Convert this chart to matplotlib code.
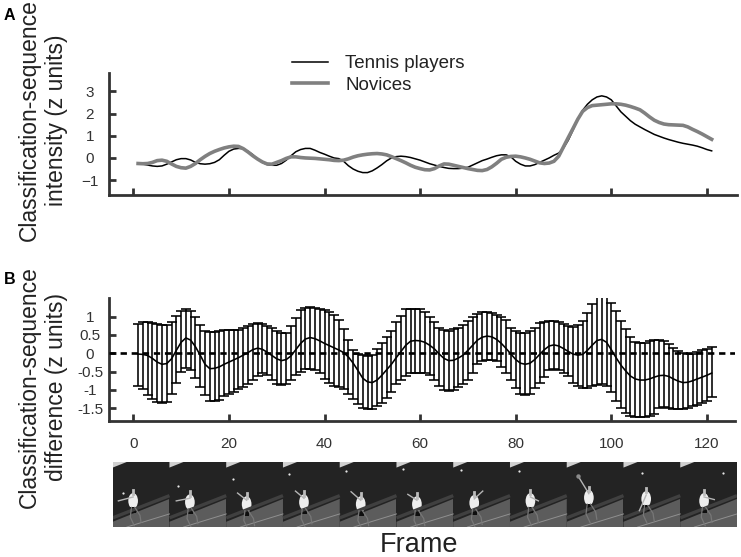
import matplotlib
matplotlib.use("Agg")
import matplotlib.pyplot as plt
from matplotlib.patches import Polygon, Rectangle, Ellipse

plt.rcParams['font.family'] = ['Liberation Sans', 'DejaVu Sans']

W, H = 741, 557
DARK = '#333333'

frames = list(range(1, 122))
tennis = [-.26,-.28,-.32,-.36,-.38,-.36,-.28,-.18,-.08,-.03,
 -.03,-.09,-.2,-.26,-.28,-.26,-.2,-.08,.12,.3,
 .4,.43,.42,.3,.15,-.05,-.2,-.3,-.33,-.33,
 -.25,-.1,.1,.28,.38,.43,.43,.35,.25,.17,
 .08,0,-.03,-.15,-.35,-.5,-.6,-.66,-.66,-.58,
 -.45,-.3,-.13,0,.06,.08,.06,.02,-.04,-.1,
 -.18,-.26,-.32,-.38,-.43,-.47,-.48,-.48,-.46,-.42,
 -.32,-.22,-.12,-.05,.03,.1,.14,.14,.05,-.15,
 -.28,-.36,-.36,-.3,-.2,-.1,0,.12,.22,.45,
 .8,1.26,1.75,2.15,2.42,2.62,2.75,2.8,2.75,2.62,
 2.35,2.08,1.88,1.68,1.52,1.4,1.28,1.17,1.06,.98,
 .9,.83,.77,.71,.66,.62,.58,.53,.46,.38,.32]
novices = [-.25,-.26,-.25,-.2,-.12,-.1,-.15,-.27,-.38,-.44,
 -.46,-.38,-.25,-.08,.07,.2,.3,.38,.45,.5,
 .53,.52,.42,.27,.1,-.05,-.18,-.27,-.28,-.2,
 -.12,-.02,.05,.05,.02,0,-.01,-.02,-.04,-.06,
 -.08,-.11,-.12,-.1,-.04,.04,.1,.14,.17,.19,
 .2,.18,.14,.06,-.03,-.12,-.22,-.33,-.42,-.48,
 -.53,-.54,-.48,-.36,-.27,-.28,-.33,-.38,-.43,-.48,
 -.52,-.56,-.57,-.52,-.4,-.24,-.06,.03,.07,.08,
 .05,0,-.06,-.14,-.22,-.25,-.23,-.15,.08,.5,
 .92,1.33,1.75,2.1,2.27,2.36,2.38,2.4,2.42,2.44,
 2.44,2.42,2.38,2.32,2.25,2.17,2.02,1.85,1.7,1.6,
 1.53,1.5,1.49,1.48,1.47,1.4,1.29,1.19,1.08,.96,.84]
diff_mean = [-.02,-.03,-.06,-.14,-.24,-.3,-.28,-.15,.08,.3,
 .42,.36,.18,-.05,-.3,-.42,-.41,-.37,-.3,-.24,
 -.18,-.12,-.05,.02,.1,.14,.11,.03,-.06,-.15,
 -.2,-.17,-.07,.1,.27,.39,.43,.4,.34,.27,
 .21,.15,.09,.02,-.1,-.27,-.47,-.68,-.78,-.8,
 -.73,-.6,-.45,-.3,-.12,.05,.22,.33,.35,.34,
 .3,.22,.12,-.02,-.14,-.2,-.19,-.13,-.05,.08,
 .22,.36,.44,.47,.45,.38,.27,.13,-.02,-.17,
 -.27,-.3,-.27,-.17,-.03,.1,.2,.23,.2,.13,
 .05,-.02,-.05,-.03,.08,.22,.35,.38,.3,.1,
 -.12,-.32,-.48,-.62,-.7,-.73,-.73,-.7,-.65,-.61,
 -.6,-.63,-.7,-.76,-.8,-.79,-.75,-.7,-.65,-.6,-.54]
diff_upper = [.8,.86,.86,.83,.8,.77,.78,.86,1.02,1.15,
 1.2,1.15,1.0,.78,.6,.58,.58,.6,.63,.63,
 .63,.63,.68,.75,.8,.82,.8,.75,.7,.6,
 .55,.56,.75,.97,1.18,1.25,1.26,1.25,1.2,1.17,
 1.14,1.05,.9,.65,.35,.08,-.02,-.05,-.07,-.05,
 .12,.28,.45,.6,.85,1.03,1.2,1.22,1.22,1.2,
 1.13,1.0,.85,.68,.63,.62,.65,.7,.78,.87,
 .98,1.08,1.12,1.13,1.1,1.05,.98,.9,.7,.6,
 .56,.55,.6,.7,.82,.85,.87,.87,.85,.8,
 .75,.72,.77,.89,1.1,1.34,1.6,1.6,1.6,1.38,
 1.15,.89,.66,.45,.32,.27,.29,.33,.35,.35,
 .33,.25,.15,.05,0,-.02,-.01,.03,.08,.12,.16]
diff_lower = [-.9,-.98,-1.13,-1.25,-1.33,-1.35,-1.33,-1.12,-.8,-.5,
 -.4,-.45,-.68,-.92,-1.13,-1.3,-1.3,-1.27,-1.17,-1.1,
 -1.05,-.98,-.93,-.85,-.72,-.62,-.55,-.6,-.72,-.85,
 -.87,-.85,-.73,-.6,-.5,-.42,-.42,-.45,-.55,-.7,
 -.8,-.88,-.92,-.98,-1.1,-1.25,-1.38,-1.5,-1.52,-1.52,
 -1.45,-1.35,-1.22,-1.05,-.85,-.72,-.62,-.55,-.55,-.53,
 -.55,-.6,-.72,-.88,-1.0,-1.02,-1.0,-.92,-.85,-.72,
 -.55,-.3,-.2,-.17,-.18,-.2,-.37,-.55,-.72,-.95,
 -1.12,-1.15,-1.12,-.95,-.8,-.65,-.45,-.43,-.45,-.55,
 -.62,-.8,-.9,-.95,-.95,-.9,-.87,-.85,-.88,-1.07,
 -1.3,-1.48,-1.62,-1.7,-1.75,-1.75,-1.75,-1.72,-1.65,-1.5,
 -1.47,-1.5,-1.52,-1.53,-1.53,-1.5,-1.43,-1.4,-1.35,-1.3,-1.2]

a_yticks = [-1, 0, 1, 2, 3]
b_yticks = [-1.5, -1, -0.5, 0, 0.5, 1]
b_yticklabels = ['-1.5', '-1', '-0.5', '0', '0.5', '1']
x_ticks = [0, 20, 40, 60, 80, 100, 120]
legend_labels = ['Tennis players', 'Novices']
ylabel_a = 'Classification-sequence\nintensity (z units)'
ylabel_b = 'Classification-sequence\ndifference (z units)'

# photo strip contents (fraction of a tile, y measured from tile top)
ball_x = [.18, .15, .12, .11, .11, .12, .135, .16, None, .33, .75]
ball_y = [.48, .37, .26, .19, .14, .11, .12, .14, None, .17, .17]
torso_x = [.36, .36, .36, .37, .37, .36, .37, .36, .39, .40, .42]
torso_y = [.60, .62, .65, .62, .65, .65, .63, .60, .55, .57, .60]
arm_x = [.10, .12, .20, .22, .20, .20, .52, .50, .20, .28, .60]
arm_y = [.60, .60, .48, .45, .46, .50, .45, .60, .22, .75, .58]


def box(l, t, r, b):
    return [l / W, 1 - b / H, (r - l) / W, (b - t) / H]


fig = plt.figure(figsize=(W / 100, H / 100), dpi=100)

axA = fig.add_axes(box(109, 73, 737, 195))
axB = fig.add_axes(box(109, 298, 735, 420.7))

xminv = (109 - 133.3) / 4.78
axA.set_xlim(xminv, (737 - 133.3) / 4.78)
axB.set_xlim(xminv, (735 - 133.3) / 4.78)
axA.set_ylim(-1.67, 3.83)
axB.set_ylim(-1.84, 1.51)

axA.plot(frames, tennis, color='black', lw=1.1, label=legend_labels[0])
axA.plot(frames, novices, color='#808080', lw=2.6, label=legend_labels[1])
axA.legend(loc='upper left', bbox_to_anchor=(292 / W, 1 - 55 / H),
           bbox_transform=fig.transFigure, frameon=False, fontsize=13.5,
           handlelength=1.93, handletextpad=0.9, labelspacing=0.24,
           borderpad=0, borderaxespad=0, labelcolor='#222222')

err_lo = [m - l for m, l in zip(diff_mean, diff_lower)]
err_hi = [u - m for m, u in zip(diff_mean, diff_upper)]
axB.errorbar(frames, diff_mean, yerr=[err_lo, err_hi], color='black',
             lw=1.15, elinewidth=1.15, capsize=3.6, capthick=1.15, zorder=3)
axB.axhline(0, color='black', lw=1.9, dashes=(2.4, 1.8), zorder=4)

for ax in (axA, axB):
    ax.spines['top'].set_visible(False)
    ax.spines['right'].set_visible(False)
    for s in ('left', 'bottom'):
        ax.spines[s].set_linewidth(2.0)
        ax.spines[s].set_color(DARK)
    ax.set_xticks(x_ticks)
    ax.tick_params(axis='both', direction='in', length=5, width=2.0,
                   color=DARK, labelsize=11, labelcolor='#333333')
    ax.tick_params(axis='y', pad=13.7)

axA.set_yticks(a_yticks)
axA.tick_params(axis='x', labelbottom=False)
axB.set_yticks(b_yticks)
axB.set_yticklabels(b_yticklabels)
axB.tick_params(axis='x', pad=12)
for ax in (axA, axB):
    for t in ax.get_yticklabels():
        t.set_ha('center')

fig.text(43 / W, 1 - 120 / H, ylabel_a, rotation=90, ha='center', va='center',
         fontsize=16.5, color='#222222', multialignment='center', linespacing=1.25)
fig.text(43 / W, 1 - 387 / H, ylabel_b, rotation=90, ha='center', va='center',
         fontsize=16.5, color='#222222', multialignment='center', linespacing=1.25)
fig.text(4 / W, 1 - 15.5 / H, 'A', fontsize=11.5, fontweight='bold', va='center')
fig.text(4 / W, 1 - 280 / H, 'B', fontsize=11.5, fontweight='bold', va='center')
fig.text(419 / W, 1 - 545 / H, 'Frame', fontsize=19.5, ha='center', va='center', color='#222222')

# tennis-serve photo strip, sketched tile by tile
axS = fig.add_axes(box(112.7, 461.7, 737, 527))
axS.set_xlim(0, 11)
axS.set_ylim(1, 0)
axS.axis('off')
for i in range(11):
    axS.add_patch(Rectangle((i, 0), 1, 1, fc='#232323', ec='none'))
    axS.add_patch(Polygon([(i, .92), (i + 1, .57), (i + 1, 1), (i, 1)], fc='#5c5c5c', ec='none'))
    axS.plot([i, i + 1], [.86, .52], color='#404040', lw=2.4, solid_capstyle='butt')
    axS.plot([i + .25, i + 1], [1, .80], color='#909090', lw=0.7)
    axS.add_patch(Polygon([(i, 0), (i + .26, 0), (i, .09)], fc='#d0d0d0', ec='none'))
    tx, ty = torso_x[i], torso_y[i]
    axS.add_patch(Ellipse((i + tx, ty), .17, .24, fc='#eeeeee', ec='none'))
    axS.plot([i + tx, i + tx], [ty - .1, ty - .17], color='#bbbbbb', lw=2.0)
    axS.plot([i + tx, i + arm_x[i]], [ty - .06, arm_y[i]], color='#b5b5b5', lw=1.0)
    axS.plot([i + tx - .03, i + tx - .05, i + tx + .02],
             [ty + .1, ty + .25, ty + .38], color='#777777', lw=0.9)
    axS.plot([i + tx + .03, i + tx + .12, i + tx + .14],
             [ty + .1, ty + .22, ty + .33], color='#777777', lw=0.9)
    axS.add_patch(Rectangle((i + tx - .05, ty + .1), .1, .08, fc='#0e0e0e', ec='none'))
    if ball_x[i] is not None:
        axS.plot(i + ball_x[i], ball_y[i], 'o', color='#e8e8e8', ms=1.6, mew=0)
    else:
        axS.plot(i + .2, .22, 'o', color='#8a8a8a', ms=3.2, mew=0)

fig.savefig('out.png', dpi=100)
